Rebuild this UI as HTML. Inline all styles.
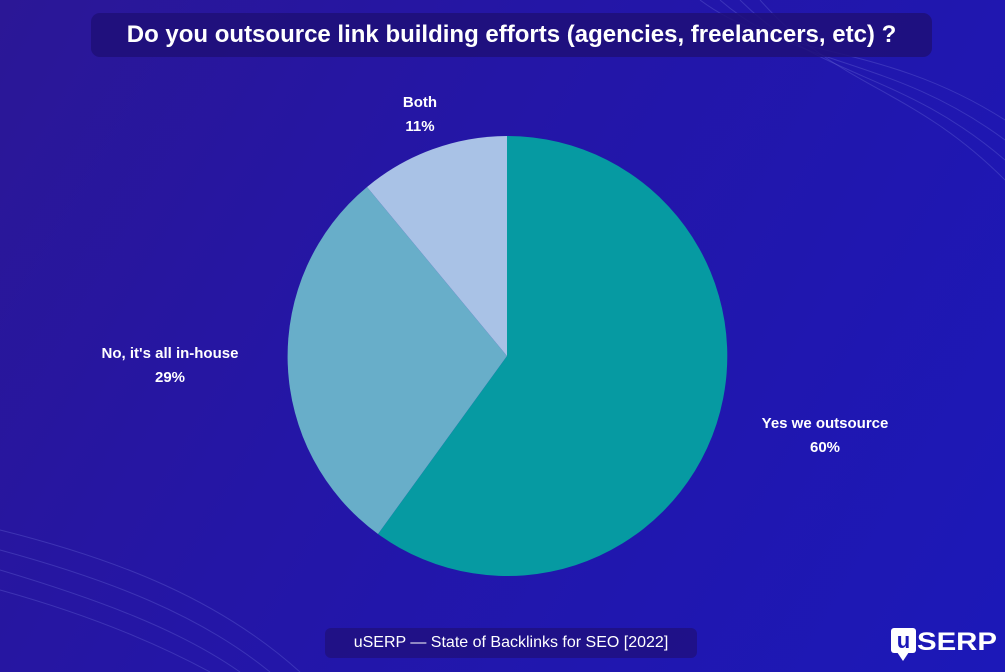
<!DOCTYPE html>
<html><head><style>
body{margin:0;width:1005px;height:672px;overflow:hidden;background:linear-gradient(120deg,#2b1796 0%,#2416a6 40%,#1c18b8 100%);font-family:"Liberation Sans",sans-serif;position:relative}
.t{position:absolute;color:#fff;font-weight:bold;text-align:center}
</style></head><body>
<svg width="1005" height="672" style="position:absolute;left:0;top:0">
<g fill="none" stroke="#6a6ad8" stroke-opacity="0.35" stroke-width="1">
<path d="M700 0 C780 60 880 40 1005 120"/><path d="M720 0 C800 70 890 55 1005 140"/><path d="M740 0 C820 80 900 70 1005 160"/><path d="M760 0 C840 90 910 85 1005 180"/>
<path d="M0 530 C120 560 220 600 300 672"/><path d="M0 550 C110 580 200 615 270 672"/><path d="M0 570 C100 600 180 630 240 672"/><path d="M0 590 C90 615 160 645 210 672"/>
</g>
<rect x="91" y="13" width="841" height="44" rx="9" fill="#1f0f78" fill-opacity="0.85"/>
<rect x="325" y="628" width="372" height="30" rx="6" fill="#1f0f78" fill-opacity="0.7"/>
<path d="M507 356 L507 136 A220 220 0 1 1 378 534 Z" fill="#069aa2"/>
<path d="M507 356 L378 534 A220 220 0 0 1 367 187 Z" fill="#68aec9"/>
<path d="M507 356 L367 187 A220 220 0 0 1 507 136 Z" fill="#a9c2e6"/>
<rect x="891" y="628" width="25" height="25" rx="3" fill="#fff"/>
<path d="M897 652 L903 661 L909 652 Z" fill="#fff"/>
<text x="903.5" y="648" font-family="Liberation Sans" font-weight="bold" font-size="22" fill="#1c18b8" text-anchor="middle">u</text>
<text x="917" y="650" font-family="Liberation Sans" font-weight="bold" font-size="25" fill="#fff" textLength="80" lengthAdjust="spacingAndGlyphs">SERP</text>
</svg>
<div class="t" style="left:91px;top:21px;width:841px;font-size:24px">Do you outsource link building efforts (agencies, freelancers, etc) ?</div>
<div class="t" style="left:370px;top:91px;width:100px;font-size:15px;line-height:24px">Both<br>11%</div>
<div class="t" style="left:55px;top:342px;width:230px;font-size:15px;line-height:24px">No, it's all in-house<br>29%</div>
<div class="t" style="left:720px;top:412px;width:210px;font-size:15px;line-height:24px">Yes we outsource<br>60%</div>
<div class="t" style="left:325px;top:634px;width:372px;font-size:16px;font-weight:normal">uSERP — State of Backlinks for SEO [2022]</div>
</body></html>
